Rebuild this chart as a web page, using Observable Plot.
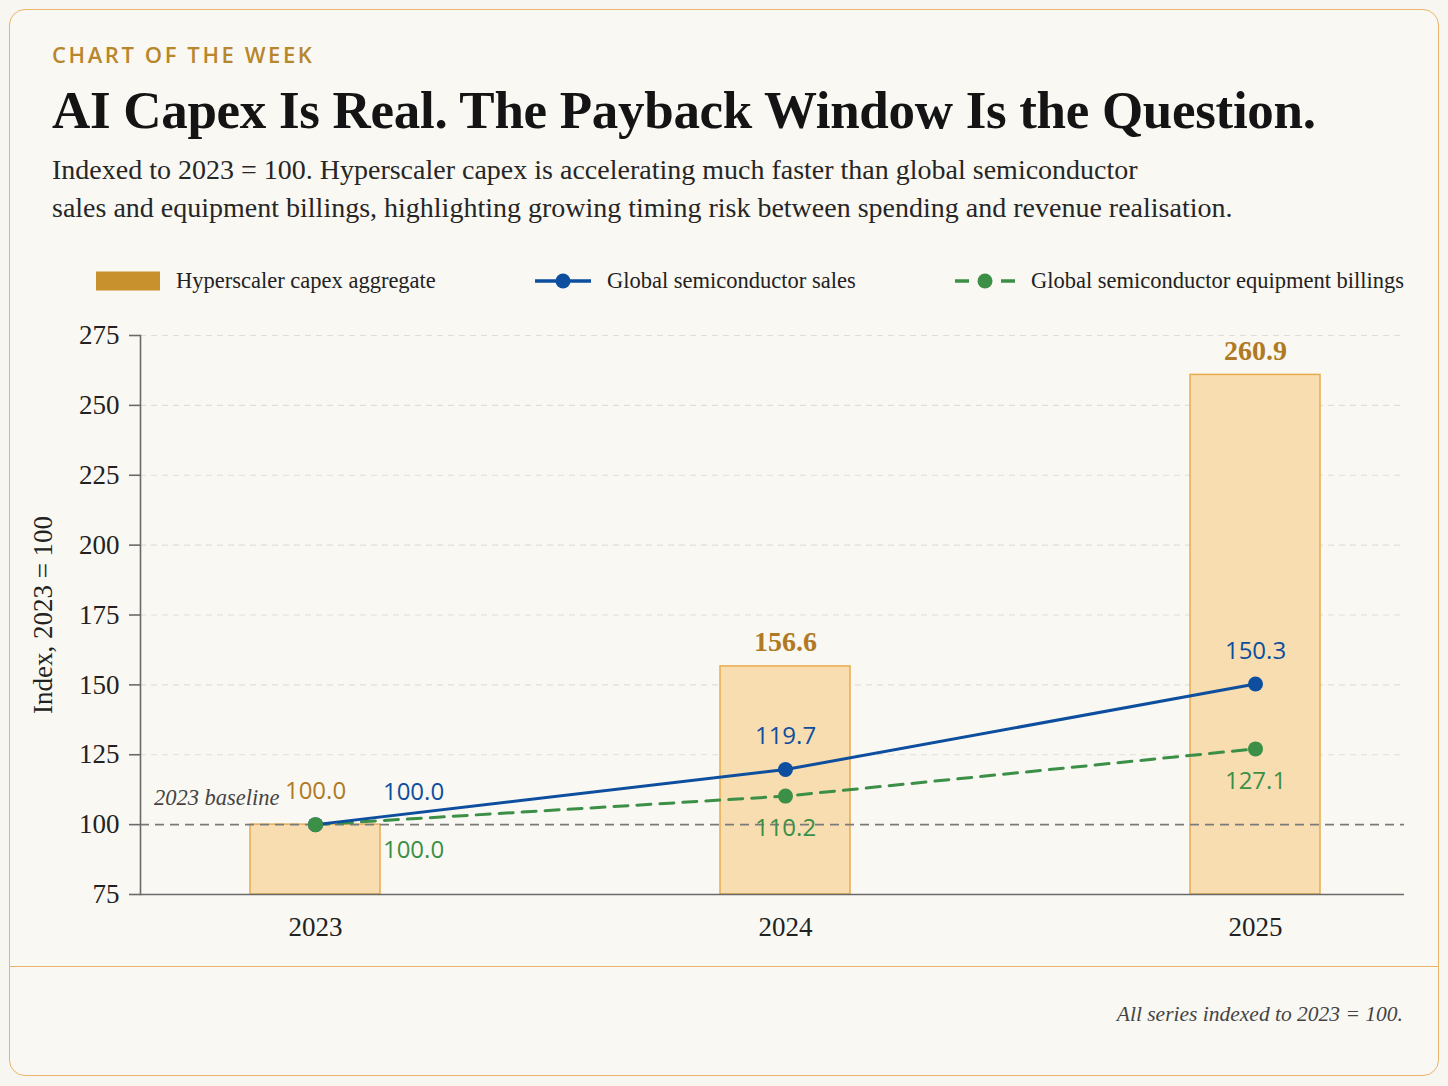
<!DOCTYPE html>
<html>
<head>
<meta charset="utf-8">
<script src="https://cdn.jsdelivr.net/npm/d3@7"></script>
<script src="https://cdn.jsdelivr.net/npm/@observablehq/plot@0.6"></script>
<style>
  html, body { margin: 0; padding: 0; background: #f8f6f1; }
  body { width: 1448px; height: 1086px; position: relative; overflow: hidden; }
  .card { position: absolute; left: 9px; top: 9px; width: 1430px; height: 1067px; box-sizing: border-box;
          border: 1.5px solid #e9b56a; border-radius: 16px; background: #faf8f3; }
  .divider { position: absolute; left: 9px; top: 966px; width: 1430px; height: 0; border-top: 1.5px solid #e9b56a; }
  .abs { position: absolute; white-space: nowrap; }
  .kicker { left: 52px; top: 42px; font-family: "Open Sans", "Noto Sans", sans-serif; font-size: 22px; line-height: 24px;
            letter-spacing: 2.6px; color: #b8862b; font-weight: 600; }
  .title { left: 52px; top: 82px; font-family: "Liberation Serif", serif; font-weight: bold; font-size: 53px; line-height: 56px;
           color: #141414; letter-spacing: -0.3px; }
  .subtitle { left: 52px; top: 151px; font-family: "Liberation Serif", serif; font-size: 28px; line-height: 38px; color: #262626; }
  .legend-item { position: absolute; top: 266px; height: 30px; display: flex; align-items: center;
                 font-family: "Liberation Serif", serif; font-size: 22.5px; color: #222; white-space: nowrap; }
  .legend-item svg { margin-right: 16px; }
  .footer { right: 45px; top: 1002px; font-family: "Liberation Serif", serif; font-style: italic; font-size: 21.5px; color: #444; }
  #chart { position: absolute; left: 9px; top: 305px; }
</style>
</head>
<body>
<div class="card"></div>
<div class="divider"></div>

<div class="abs kicker">CHART OF THE WEEK</div>
<div class="abs title">AI Capex Is Real. The Payback Window Is the Question.</div>
<div class="abs subtitle">Indexed to 2023 = 100. Hyperscaler capex is accelerating much faster than global semiconductor<br>sales and equipment billings, highlighting growing timing risk between spending and revenue realisation.</div>

<div class="legend-item" style="left:96px">
  <svg width="64" height="20"><rect x="0" y="0.5" width="64" height="19" fill="#c8912e"/></svg>
  <span>Hyperscaler capex aggregate</span>
</div>
<div class="legend-item" style="left:535px">
  <svg width="56" height="20"><line x1="0" y1="10" x2="56" y2="10" stroke="#0d4e9e" stroke-width="3.5"/><circle cx="28" cy="10" r="7.5" fill="#0d4e9e"/></svg>
  <span>Global semiconductor sales</span>
</div>
<div class="legend-item" style="left:955px">
  <svg width="60" height="20"><line x1="0" y1="10" x2="60" y2="10" stroke="#3b8f47" stroke-width="3.5" stroke-dasharray="14,9"/><circle cx="30" cy="10" r="7.5" fill="#3b8f47"/></svg>
  <span>Global semiconductor equipment billings</span>
</div>

<div id="chart"></div>
<div class="abs footer">All series indexed to 2023 = 100.</div>

<script>
// Index values, 2023 = 100
const years = ["2023", "2024", "2025"];
const hyperscalerCapex = [100.0, 156.6, 260.9];
const semiconductorSales = [100.0, 119.7, 150.3];
const equipmentBillings = [100.0, 110.2, 127.1];
const yTicks = [75, 100, 125, 150, 175, 200, 225, 250, 275];
const gridTicks = [125, 150, 175, 200, 225, 250, 275];
const baselineValue = 100;
const baselineLabel = "2023 baseline";
const yLabel = "Index, 2023 = 100";

const rows = years.map((year, i) => ({
  year,
  capex: hyperscalerCapex[i],
  sales: semiconductorSales[i],
  billings: equipmentBillings[i]
}));

const GOLD = "#b07a25";
const BLUE = "#0d4e9e";
const GREEN = "#3b8f47";
const SANS = "'Open Sans', 'Noto Sans', sans-serif";
const SERIF = "'Liberation Serif', serif";
const fmt = d3.format(".1f");

const first = rows.slice(0, 1);
const rest = rows.slice(1);

const chart = Plot.plot({
  width: 1430,
  height: 639,
  marginLeft: 131,
  marginRight: 35,
  marginTop: 30,
  marginBottom: 50,
  style: { background: "transparent", fontFamily: SERIF, fontSize: "27px", color: "#222", overflow: "visible" },
  x: { type: "band", domain: years, range: [124, 1428], paddingInner: 0.724, paddingOuter: 0.249, label: null },
  y: { domain: [75, 275], label: null },
  marks: [
    // light dashed grid
    Plot.ruleY(gridTicks, { stroke: "#e2ded6", strokeWidth: 1.2, strokeDasharray: "6,5" }),
    // capex bars rise from the bottom of the axis
    Plot.barY(rows, { x: "year", y1: () => 75, y2: "capex", fill: "#f8ddb0", stroke: "#e9ab50", strokeWidth: 1.5 }),
    // 2023 baseline
    Plot.ruleY([baselineValue], { stroke: "#7a7a7a", strokeWidth: 1.6, strokeDasharray: "9,6" }),
    Plot.text([baselineValue], {
      x: () => years[0], y: d => d, text: () => baselineLabel, textAnchor: "end", dx: -36, dy: -27,
      fontFamily: SERIF, fontStyle: "italic", fontSize: 22.5, fill: "#444"
    }),
    // axes
    Plot.ruleY([75], { stroke: "#6a6a6a", strokeWidth: 1.6 }),
    Plot.frame({ anchor: "left", stroke: "#6a6a6a", strokeWidth: 1.6 }),
    Plot.axisY({
      ticks: yTicks, tickSize: 11, tickPadding: 10, stroke: "#6a6a6a", strokeWidth: 1.6,
      fontSize: 27, fill: "#222",
      label: yLabel, labelAnchor: "center", labelArrow: "none", labelOffset: 108
    }),
    Plot.axisX({ tickSize: 0, tickPadding: 22, fontSize: 27, fill: "#222" }),
    // series lines
    Plot.line(rows, { x: "year", y: "billings", stroke: GREEN, strokeWidth: 3, strokeDasharray: "14,9" }),
    Plot.line(rows, { x: "year", y: "sales", stroke: BLUE, strokeWidth: 3 }),
    Plot.dot(rows, { x: "year", y: "sales", r: 7.5, fill: BLUE }),
    Plot.dot(rows, { x: "year", y: "billings", r: 7.5, fill: GREEN }),
    // value labels
    Plot.text(rest, { x: "year", y: "capex", text: d => fmt(d.capex), dy: -24, fontFamily: SERIF, fontWeight: "bold", fontSize: 28, fill: GOLD }),
    Plot.text(first, { x: "year", y: "capex", text: d => fmt(d.capex), dy: -33, fontFamily: SANS, fontSize: 24, fill: GOLD }),
    Plot.text(rest, { x: "year", y: "sales", text: d => fmt(d.sales), dy: -33, fontFamily: SANS, fontSize: 24, fill: BLUE }),
    Plot.text(first, { x: "year", y: "sales", text: d => fmt(d.sales), dx: 98, dy: -32, fontFamily: SANS, fontSize: 24, fill: BLUE }),
    Plot.text(rest, { x: "year", y: "billings", text: d => fmt(d.billings), dy: 32, fontFamily: SANS, fontSize: 24, fill: GREEN }),
    Plot.text(first, { x: "year", y: "billings", text: d => fmt(d.billings), dx: 98, dy: 26, fontFamily: SANS, fontSize: 24, fill: GREEN })
  ]
});

document.getElementById("chart").appendChild(chart);
</script>
</body>
</html>
